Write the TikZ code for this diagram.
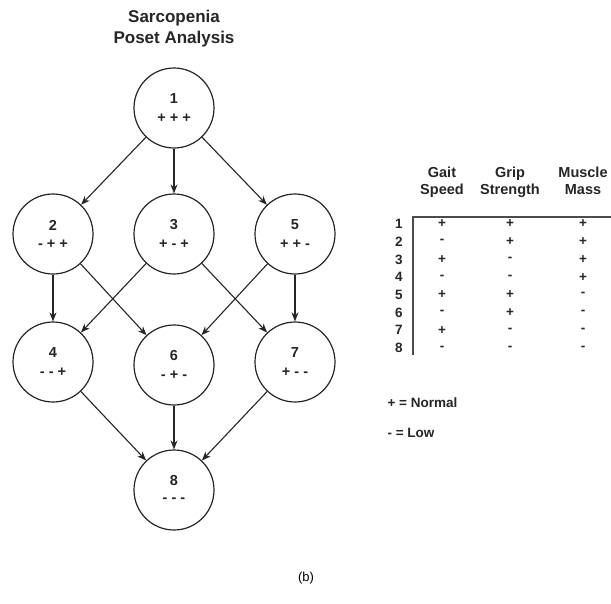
\documentclass[tikz,border=0pt]{standalone}
\usepackage{fontspec}
\setmainfont{Liberation Sans}
\usetikzlibrary{arrows.meta}
\begin{document}
\begin{tikzpicture}[x=1pt,y=-1pt,
  state/.style={circle,draw=black!85,line width=1.2pt,minimum size=80pt,inner sep=0pt},
  edge/.style={-{Stealth[length=9pt,width=7pt]},draw=black!85,line width=1.1pt},
  lbl/.style={font=\fontsize{14.5}{16}\selectfont\bfseries,text=black!85},
  sign/.style={font=\fontsize{14.5}{16}\selectfont\bfseries,text=black!85},
  hdr/.style={font=\fontsize{14.5}{17}\selectfont\bfseries,text=black!85,align=center,anchor=base},
  cell/.style={font=\fontsize{13.5}{15}\selectfont\bfseries,text=black!85}]
\useasboundingbox (0,0) rectangle (611,603);
\fill[white] (0,0) rectangle (611,603);

% title
\node[font=\fontsize{17}{21}\selectfont\bfseries,text=black!85,align=center] (title) at (174,29) {Sarcopenia\\Poset Analysis};

% lattice states
\foreach \n/\x/\y/\s in {1/174/108/{+ + +},2/53/234/{- + +},3/174/234/{+ - +},5/295/234/{+ + -},
                         4/53/362/{- - +},6/174/365/{- + -},7/295/362/{+ - -},8/174/490/{- - -}}{
  \node[state] (n\n) at (\x,\y) {};
  \node[lbl] (k\n) at (\x,\y-9) {\n};
  \node[sign] (s\n) at (\x,\y+10) {\s};
}

% order relations
\foreach \a/\b in {1/2,1/3,1/5,2/4,2/6,3/4,3/7,5/6,5/7,4/8,6/8,7/8}
  \draw[edge] (n\a) -- (n\b);

% table of attributes
\node[hdr] (h1) at (442,194) {Gait\\Speed};
\node[hdr] (h2) at (510,194) {Grip\\Strength};
\node[hdr] (h3) at (583,194) {Muscle\\Mass};
\coordinate (tl) at (413,217);
\coordinate (tr) at (611,217);
\coordinate (bl) at (413,355);
\draw[black!70,line width=1.2pt] (tr) -- (tl) -- (bl);

\foreach \r/\g/\p/\m [count=\i] in {1/+/+/+,2/-/+/+,3/+/-/+,4/-/-/+,5/+/+/-,6/-/+/-,7/+/-/-,8/-/-/-}{
  \node[cell] (r\i) at (399,224+17.7*\i-17.7) {\r};
  \node[cell] (g\i) at (442,224+17.7*\i-17.7) {\g};
  \node[cell] (p\i) at (510,224+17.7*\i-17.7) {\p};
  \node[cell] (m\i) at (583,224+17.7*\i-17.7) {\m};
}

% legend
\node[cell,anchor=west] (leg1) at (384,403) {+ = Normal};
\node[cell,anchor=west] (leg2) at (384,433) {- = Low};

% caption
\node[font=\rmfamily\fontsize{13}{15}\selectfont] (cap) at (306,578) {(b)};
\end{tikzpicture}
\end{document}
